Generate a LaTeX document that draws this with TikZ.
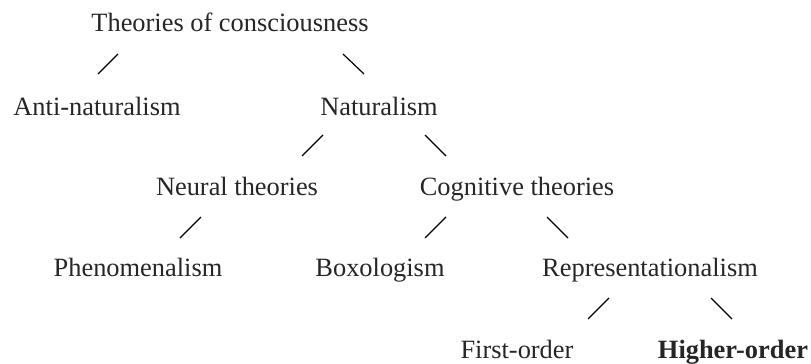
\documentclass[tikz,border=0pt]{standalone}
\usepackage{fontspec}
\setmainfont{Liberation Serif}
\usepackage{tikz}
\usetikzlibrary{positioning, calc}

\begin{document}
\begin{tikzpicture}[
        x=0.5pt, y=-0.5pt,
        line width=0.6pt,
        term/.style={
            anchor=base,
            inner sep=0pt,
            text=black!85,
            font=\fontsize{13.2}{15}\selectfont
        }
    ]
        \useasboundingbox (0,0) rectangle (811,364);

        % Level 0
        \node[term] (theories) at (230, 32) {Theories of consciousness};

        % Level 1
        \node[term] (anti) at (97, 115) {Anti-naturalism};
        \node[term] (nat) at (379, 115) {Naturalism};
        \draw ($(theories.base)+(-112,22)$) -- ($(anti.base)+(1,-41)$);
        \draw ($(theories.base)+(113,22)$) -- ($(nat.base)+(-15,-41)$);

        % Level 2
        \node[term] (neural) at (237, 195) {Neural theories};
        \node[term] (cog) at (517, 195) {Cognitive theories};
        \draw ($(nat.base)+(-56,20)$) -- ($(neural.base)+(65,-39)$);
        \draw ($(nat.base)+(46,20)$) -- ($(cog.base)+(-71,-39)$);

        % Level 3
        \node[term] (phen) at (138, 277) {Phenomenalism};
        \node[term] (box) at (380, 277) {Boxologism};
        \node[term] (repr) at (650, 277) {Representationalism};
        \draw ($(neural.base)+(-36,22)$) -- ($(phen.base)+(42,-39)$);
        \draw ($(cog.base)+(-71,22)$) -- ($(box.base)+(45,-39)$);
        \draw ($(cog.base)+(30,22)$) -- ($(repr.base)+(-82,-39)$);

        % Level 4
        \node[term] (first) at (517, 358) {First-order};
        \node[term] (higher) at (733, 358) {\textbf{Higher-order}};
        \draw ($(repr.base)+(-41,21)$) -- ($(first.base)+(71,-39)$);
        \draw ($(repr.base)+(61,21)$) -- ($(higher.base)+(-1,-39)$);

    \end{tikzpicture}
\end{document}
